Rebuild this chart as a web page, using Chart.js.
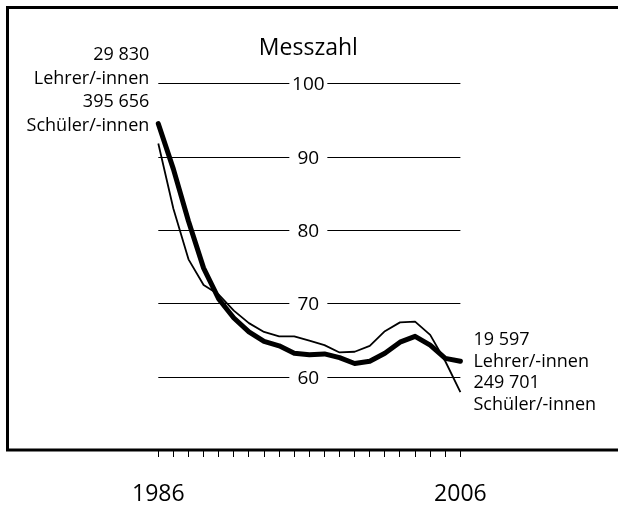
<!DOCTYPE html>
<html>
<head>
<meta charset="utf-8">
<script src="https://cdn.jsdelivr.net/npm/chart.js@4.4.1/dist/chart.umd.min.js"></script>
<style>
  html, body { margin: 0; padding: 0; background: #fff; }
  #wrap { width: 618px; height: 508px; }
</style>
</head>
<body>
<div id="wrap"><canvas id="chart" width="618" height="508"></canvas></div>
<script>
const years = [1986, 1987, 1988, 1989, 1990, 1991, 1992, 1993, 1994, 1995, 1996,
  1997, 1998, 1999, 2000, 2001, 2002, 2003, 2004, 2005, 2006]
// Messzahl, Lehrer/-innen (thick line)
const lehrer = [94.5, 88.3, 81.2, 74.8, 70.6, 68.0, 66.1, 64.8, 64.2, 63.2, 63.0,
  63.1, 62.6, 61.8, 62.1, 63.2, 64.7, 65.5, 64.3, 62.5, 62.1]
// Messzahl, Schüler/-innen (thin line)
const schueler = [91.8, 82.9, 76.0, 72.5, 71.2, 69.0, 67.3, 66.1, 65.5, 65.5, 64.9,
  64.3, 63.3, 63.4, 64.2, 66.2, 67.4, 67.5, 65.7, 62.1, 57.9]
const gridValues = [60, 70, 80, 90, 100]
const yearLabels = [1986, 2006]
const startLabels = ["29 830", "Lehrer/-innen", "395 656", "Schüler/-innen"]
const endLabels = ["19 597", "Lehrer/-innen", "249 701", "Schüler/-innen"]

const FONT = "'Open Sans', 'Noto Sans', sans-serif"

const decor = {
  id: "decor",
  beforeDatasetsDraw(chart) {
    const { ctx, scales: { x, y } } = chart
    const left = x.getPixelForValue(years[0])
    const right = x.getPixelForValue(years[years.length - 1])
    const mid = (left + right) / 2 - 1
    ctx.save()
    ctx.strokeStyle = "#000"
    ctx.lineWidth = 1
    ctx.fillStyle = "#000"
    ctx.font = "19px " + FONT
    ctx.textAlign = "center"
    ctx.textBaseline = "middle"
    gridValues.forEach(v => {
      const py = Math.round(y.getPixelForValue(v)) + 0.5
      ctx.beginPath()
      ctx.moveTo(left, py)
      ctx.lineTo(mid - 19, py)
      ctx.moveTo(mid + 19, py)
      ctx.lineTo(right, py)
      ctx.stroke()
      ctx.fillText(String(v), mid, py + 1)
    })
    ctx.font = "23px " + FONT
    ctx.textBaseline = "alphabetic"
    ctx.fillText("Messzahl", mid, 55)
    ctx.restore()
  },
  afterDraw(chart) {
    const { ctx, scales: { x } } = chart
    ctx.save()
    // frame
    ctx.strokeStyle = "#000"
    ctx.lineWidth = 3
    ctx.beginPath()
    ctx.moveTo(620, 7.5)
    ctx.lineTo(7.5, 7.5)
    ctx.lineTo(7.5, 450)
    ctx.lineTo(620, 450)
    ctx.stroke()
    // annotations
    ctx.fillStyle = "#000"
    ctx.font = "18px " + FONT
    ctx.textBaseline = "alphabetic"
    ctx.textAlign = "right"
    const lx = x.getPixelForValue(years[0]) - 9
    startLabels.forEach((t, i) => ctx.fillText(t, lx, 60 + i * 23.5))
    ctx.textAlign = "left"
    const rx = x.getPixelForValue(years[years.length - 1]) + 13
    endLabels.forEach((t, i) => ctx.fillText(t, rx, 345 + i * 21.7))
    ctx.restore()
  }
}

new Chart(document.getElementById("chart"), {
  type: "line",
  data: {
    datasets: [
      {
        label: "Lehrer/-innen",
        data: years.map((yr, i) => ({ x: yr, y: lehrer[i] })),
        borderColor: "#000",
        borderWidth: 5,
        borderCapStyle: "round",
        borderJoinStyle: "round",
        pointRadius: 0,
        tension: 0,
        clip: false
      },
      {
        label: "Schüler/-innen",
        data: years.map((yr, i) => ({ x: yr, y: schueler[i] })),
        borderColor: "#000",
        borderWidth: 1.8,
        borderJoinStyle: "round",
        pointRadius: 0,
        tension: 0,
        clip: false
      }
    ]
  },
  options: {
    responsive: false,
    animation: false,
    events: [],
    layout: {
      padding: { left: 158.3, right: 157.6, top: 10, bottom: 0 }
    },
    plugins: {
      legend: { display: false },
      tooltip: { enabled: false },
      title: { display: false }
    },
    scales: {
      x: {
        type: "linear",
        min: 1986,
        max: 2006,
        afterFit(scale) { scale.height = 58 },
        grid: {
          drawOnChartArea: false,
          drawTicks: true,
          tickLength: 7,
          color: "#000",
          lineWidth: 1
        },
        border: { display: false },
        ticks: {
          stepSize: 1,
          autoSkip: false,
          maxRotation: 0,
          padding: 24,
          color: "#000",
          font: { family: FONT, size: 23 },
          callback: v => yearLabels.includes(v) ? String(v) : ""
        }
      },
      y: {
        display: false,
        min: 50,
        max: 110
      }
    }
  },
  plugins: [decor]
})
</script>
</body>
</html>
